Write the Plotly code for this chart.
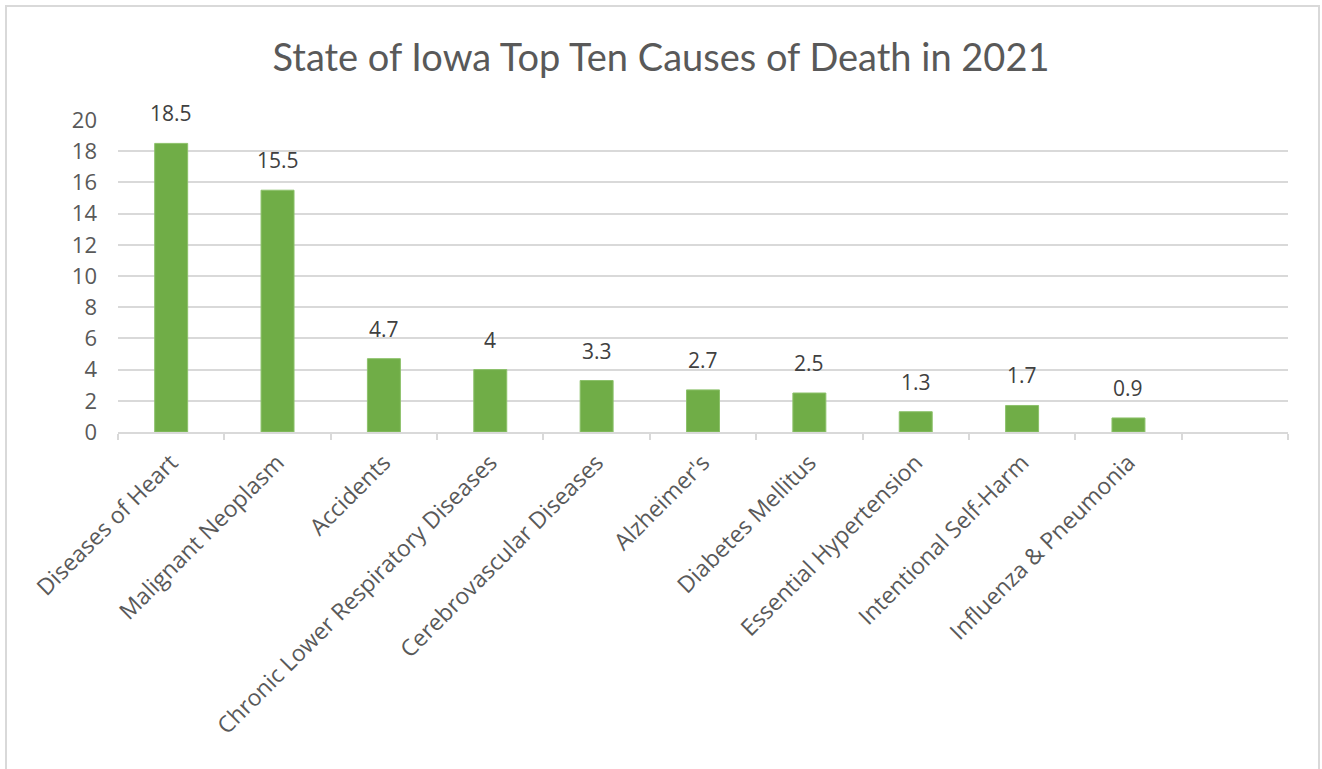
import plotly.graph_objects as go

causes = ["Diseases of Heart", "Malignant Neoplasm", "Accidents",
          "Chronic Lower Respiratory Diseases", "Cerebrovascular Diseases",
          "Alzheimer's", "Diabetes Mellitus", "Essential Hypertension",
          "Intentional Self-Harm", "Influenza & Pneumonia"]
values = [18.5, 15.5, 4.7, 4, 3.3, 2.7, 2.5, 1.3, 1.7, 0.9]
# trailing empty category slot shown in the original chart
empty_slot = [" "]
y_ticks = list(range(0, 21, 2))

W, H = 1322, 769
ML, MR, MT, MB = 118, 34, 120, 337
PW, PH = W - ML - MR, H - MT - MB

cats = causes + empty_slot
vals = values + [None]

fig = go.Figure(go.Bar(
    x=cats, y=vals,
    marker=dict(color="#70ad47", line=dict(color="#8cc16a", width=1)),
    width=0.31,
    cliponaxis=False,
    hoverinfo="x+y",
))

# data labels above each bar
for c, v in zip(causes, values):
    fig.add_annotation(x=c, y=v, xref="x", yref="y", text=f"{v:g}",
                       showarrow=False, yanchor="bottom", yshift=14,
                       font=dict(family="Open Sans", size=21, color="#404040"))

def px_to_paper_x(px):
    return (px - ML) / PW

def px_to_paper_y(py):
    return 1 - (py - MT) / PH

fig.update_layout(
    width=W, height=H,
    margin=dict(l=ML, r=MR, t=MT, b=MB),
    paper_bgcolor="white", plot_bgcolor="white",
    title=dict(text="State of Iowa Top Ten Causes of Death in 2021",
               font=dict(family="Lato", size=38, color="#595959"),
               x=0.5, xanchor="center", y=1 - 58 / H, yanchor="middle"),
    showlegend=False,
    xaxis=dict(
        type="category", categoryorder="array", categoryarray=cats,
        range=[-0.5, len(cats) - 0.5],
        tickangle=-45,
        tickfont=dict(family="Open Sans", size=23, color="#595959"),
        showline=True, linecolor="#d9d9d9", linewidth=2,
        ticks="outside", tickson="boundaries", ticklen=6,
        tickcolor="#d9d9d9", tickwidth=2,
        showgrid=False, zeroline=False, ticklabelstandoff=6,
    ),
    yaxis=dict(
        range=[0, 20], tickvals=y_ticks,
        tickfont=dict(family="Open Sans", size=22, color="#595959"),
        showgrid=True, gridcolor="#d9d9d9", gridwidth=2,
        zeroline=False, showline=False, ticks="", ticklabelstandoff=20,
    ),
    shapes=[dict(type="rect", xref="paper", yref="paper",
                 x0=px_to_paper_x(6), x1=px_to_paper_x(1319),
                 y0=px_to_paper_y(790), y1=px_to_paper_y(6),
                 line=dict(color="#d9d9d9", width=2), fillcolor="rgba(0,0,0,0)",
                 layer="below")],
)

fig.write_html("out.html", config={"displayModeBar": False},
               post_script="document.body.style.margin='0';document.body.style.overflow='hidden';")
